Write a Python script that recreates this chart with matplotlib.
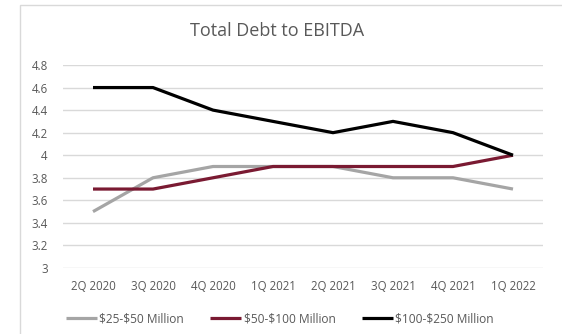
import matplotlib
matplotlib.use("Agg")
import matplotlib.pyplot as plt
from matplotlib.patches import Rectangle

# data
quarters = ["2Q 2020", "3Q 2020", "4Q 2020", "1Q 2021", "2Q 2021", "3Q 2021", "4Q 2021", "1Q 2022"]
small = [3.5, 3.8, 3.9, 3.9, 3.9, 3.8, 3.8, 3.7]
mid = [3.7, 3.7, 3.8, 3.9, 3.9, 3.9, 3.9, 4.0]
large = [4.6, 4.6, 4.4, 4.3, 4.2, 4.3, 4.2, 4.0]
series_names = [r"\$25-\$50 Million", r"\$50-\$100 Million", r"\$100-\$250 Million"]
yticks = [3, 3.2, 3.4, 3.6, 3.8, 4, 4.2, 4.4, 4.6, 4.8]

plt.rcParams['font.family'] = ['Open Sans', 'DejaVu Sans']

fig = plt.figure(figsize=(5.62, 3.34), dpi=100)
W, H = 562, 334

# chart area border (Excel style)
fig.patches.append(Rectangle((20 / W, -0.1), 1.2, 1 - 5 / H + 0.1, transform=fig.transFigure,
                             fill=False, edgecolor="#D9D9D9", linewidth=1))

ax = fig.add_axes([63 / W, 1 - 268 / H, 480 / W, 203 / H])
x = list(range(len(quarters)))
colors = ["#A5A5A5", "#7A1A32", "#000000"]
for vals, name, c in zip([small, mid, large], series_names, colors):
    ax.plot(x, vals, color=c, linewidth=2.3, label=name, solid_capstyle="butt")

ax.set_xlim(-0.5, len(quarters) - 0.5)
ax.set_ylim(3, 4.8)
ax.set_yticks(yticks)
ax.set_yticklabels([f"{v:g}" for v in yticks])
ax.set_xticks(x)
ax.set_xticklabels(quarters)
ax.grid(axis="y", color="#D9D9D9", linewidth=1)
ax.set_axisbelow(True)
for s in ax.spines.values():
    s.set_visible(False)
ax.tick_params(length=0, colors="#595959", labelsize=8.3)
ax.tick_params(axis="y", pad=11)
ax.tick_params(axis="x", pad=9)

fig.text(277 / W, 1 - 31 / H, "Total Debt to EBITDA", ha="center", va="center",
         fontsize=13, color="#595959")

fig.legend(loc="center", bbox_to_anchor=(280 / W, 1 - 319 / H), ncol=3, frameon=False,
           fontsize=8.6, labelcolor="#595959", handlelength=2.6, handletextpad=0.2,
           columnspacing=2.2)

fig.savefig("out.png", dpi=100)
